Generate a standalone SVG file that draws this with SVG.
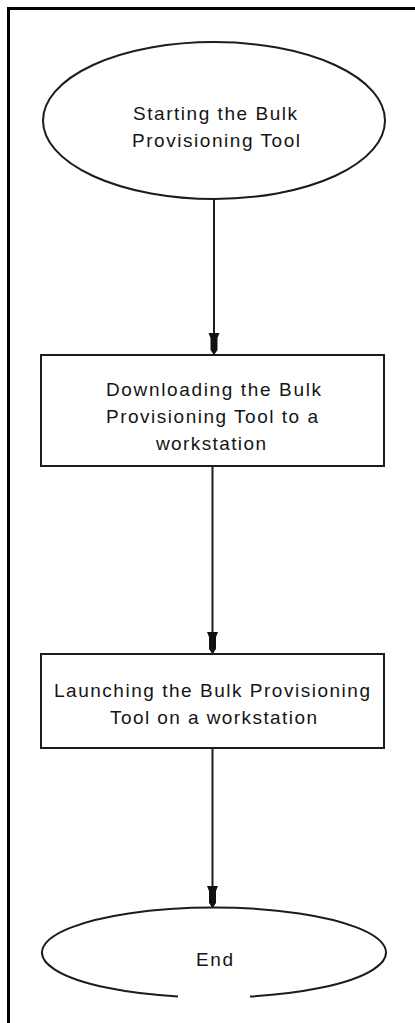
<svg xmlns="http://www.w3.org/2000/svg" width="415" height="1023" viewBox="0 0 415 1023">
  <style>
    .shape { fill: #ffffff; stroke: #1c1c1c; stroke-width: 2; }
    .conn { stroke: #1c1c1c; stroke-width: 2; fill: none; }
    .lbl { font-family: "Liberation Sans", Arial, sans-serif; font-size: 19px; fill: #151515; }
    .frame { fill: none; stroke: #000000; stroke-width: 3; }
  </style>
  <defs>
    <marker id="arrow" markerUnits="userSpaceOnUse" viewBox="-24 -7 26 14" markerWidth="26" markerHeight="14" refX="0" refY="0" orient="auto">
      <path d="M-22,-5.5 L-17,-3.5 L-5,-3.5 L0,0 L-5,3.5 L-17,3.5 L-22,5.5 Z" fill="#111111"/>
    </marker>
  </defs>

  <rect width="415" height="1023" fill="#ffffff"/>
  <path class="frame" d="M8.5,1023 V8.5 H415"/>

  <g id="connectors">
    <line class="conn" x1="214" y1="199" x2="214" y2="355" marker-end="url(#arrow)"/>
    <line class="conn" x1="212.5" y1="466" x2="212.5" y2="654" marker-end="url(#arrow)"/>
    <line class="conn" x1="212.5" y1="748" x2="212.5" y2="908" marker-end="url(#arrow)"/>
  </g>

  <g id="start">
    <ellipse class="shape" cx="214" cy="120.5" rx="171" ry="78.5"/>
    <text class="lbl" x="133" y="120" textLength="164" lengthAdjust="spacing">Starting the Bulk</text>
    <text class="lbl" x="132" y="147" textLength="168" lengthAdjust="spacing">Provisioning Tool</text>
  </g>

  <g id="download">
    <rect class="shape" x="41" y="355" width="343" height="111"/>
    <text class="lbl" x="106" y="396" textLength="215" lengthAdjust="spacing">Downloading the Bulk</text>
    <text class="lbl" x="106" y="423" textLength="212" lengthAdjust="spacing">Provisioning Tool to a</text>
    <text class="lbl" x="156" y="450" textLength="110" lengthAdjust="spacing">workstation</text>
  </g>

  <g id="launch">
    <rect class="shape" x="41" y="654" width="343" height="94"/>
    <text class="lbl" x="54" y="697" textLength="316" lengthAdjust="spacing">Launching the Bulk Provisioning</text>
    <text class="lbl" x="110" y="724" textLength="207" lengthAdjust="spacing">Tool on a workstation</text>
  </g>

  <g id="end">
    <path class="shape" d="M250,996.5 A172,45 0 1 0 178,996.5"/>
    <text class="lbl" x="196" y="966" textLength="37" lengthAdjust="spacing">End</text>
  </g>
</svg>
